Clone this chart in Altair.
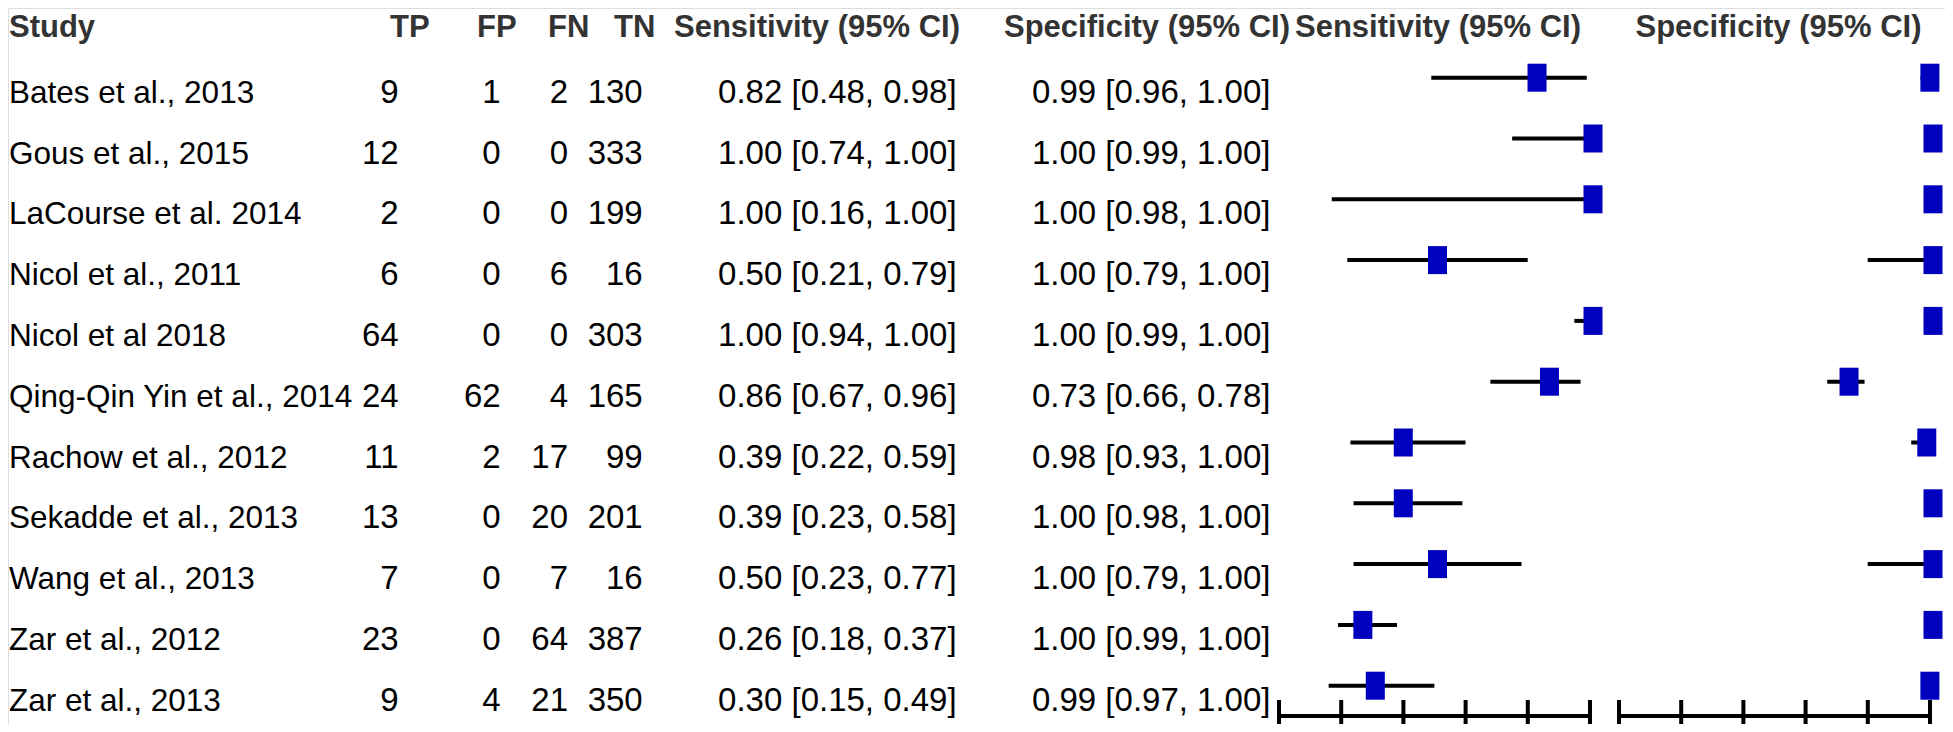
import altair as alt
import pandas as pd

studies = ["Bates et al., 2013", "Gous et al., 2015", "LaCourse et al. 2014",
           "Nicol et al., 2011", "Nicol et al 2018", "Qing-Qin Yin et al., 2014",
           "Rachow et al., 2012", "Sekadde et al., 2013", "Wang et al., 2013",
           "Zar et al., 2012", "Zar et al., 2013"]
tp = [9, 12, 2, 6, 64, 24, 11, 13, 7, 23, 9]
fp = [1, 0, 0, 0, 0, 62, 2, 0, 0, 0, 4]
fn = [2, 0, 0, 6, 0, 4, 17, 20, 7, 64, 21]
tn = [130, 333, 199, 16, 303, 165, 99, 201, 16, 387, 350]
sens = [0.82, 1.00, 1.00, 0.50, 1.00, 0.86, 0.39, 0.39, 0.50, 0.26, 0.30]
sens_lo = [0.48, 0.74, 0.16, 0.21, 0.94, 0.67, 0.22, 0.23, 0.23, 0.18, 0.15]
sens_hi = [0.98, 1.00, 1.00, 0.79, 1.00, 0.96, 0.59, 0.58, 0.77, 0.37, 0.49]
spec = [0.99, 1.00, 1.00, 1.00, 1.00, 0.73, 0.98, 1.00, 1.00, 1.00, 0.99]
spec_lo = [0.96, 0.99, 0.98, 0.79, 0.99, 0.66, 0.93, 0.98, 0.79, 0.99, 0.97]
spec_hi = [1.00, 1.00, 1.00, 1.00, 1.00, 0.78, 1.00, 1.00, 1.00, 1.00, 1.00]
headers = ["Study", "TP", "FP", "FN", "TN", "Sensitivity (95% CI)",
           "Specificity (95% CI)", "Sensitivity (95% CI)", "Specificity (95% CI)"]
axis_ticks = [0.0, 0.2, 0.4, 0.6, 0.8, 1.0]

df = pd.DataFrame({
    "study": studies, "tp": tp, "fp": fp, "fn": fn, "tn": tn,
    "sens": sens, "sens_lo": sens_lo, "sens_hi": sens_hi,
    "spec": spec, "spec_lo": spec_lo, "spec_hi": spec_hi,
})
df["sens_txt"] = [f"{a:.2f} [{b:.2f}, {c:.2f}]" for a, b, c in zip(sens, sens_lo, sens_hi)]
df["spec_txt"] = [f"{a:.2f} [{b:.2f}, {c:.2f}]" for a, b, c in zip(spec, spec_lo, spec_hi)]
ticks_df = pd.DataFrame({"t": axis_ticks})
axis_df = pd.DataFrame({"a": [axis_ticks[0]], "b": [axis_ticks[-1]]})

# ---- layout / style ----
W, H = 1937, 716
FONT = "Liberation Sans, Arial, sans-serif"
FS_STUDY = 31.5
FS_NUM = 33
FS_HEAD = 31
ROW_RANGE = [69.7, 677.7]
SENS_RANGE = [1271, 1582]
SPEC_RANGE = [1611, 1922]
BOX_COLOR = "#0000BF"
TEXT_DY = 25
HEADER_Y = 28.5
AXIS_Y = 708
TICK_TOP = 692

yenc = alt.Y("study:N", sort=studies, axis=None,
             scale=alt.Scale(type="point", domain=studies, range=ROW_RANGE, padding=0))

base = alt.Chart(df)

layers = []

# table text columns (right aligned except study)
text_cols = [("study", 1, "left", FS_STUDY), ("tp", 390.6, "right", FS_NUM),
             ("fp", 492.7, "right", FS_NUM), ("fn", 560, "right", FS_NUM),
             ("tn", 634.7, "right", FS_NUM),
             ("sens_txt", 948.6, "right", FS_NUM), ("spec_txt", 1262.5, "right", FS_NUM)]
for field, xpos, al, fs in text_cols:
    layers.append(
        base.mark_text(font=FONT, fontSize=fs, align=al, baseline="alphabetic",
                       dy=TEXT_DY, color="#000000")
        .encode(x=alt.value(xpos), y=yenc, text=alt.Text(f"{field}:N"))
    )

# headers
header_x = [1, 382, 469, 540, 606, 666, 996, 1287, 1627.5]
for label, xpos in zip(headers, header_x):
    layers.append(
        alt.Chart(axis_df).mark_text(font=FONT, fontSize=FS_HEAD, fontWeight="bold",
                                     align="left", baseline="alphabetic", color="#333333")
        .encode(x=alt.value(xpos), y=alt.value(HEADER_Y), text=alt.value(label))
    )

# forest plots
for est, lo, hi, rng in [("sens", "sens_lo", "sens_hi", SENS_RANGE),
                         ("spec", "spec_lo", "spec_hi", SPEC_RANGE)]:
    sc = alt.Scale(domain=[0, 1], range=rng, zero=False, nice=False)
    layers.append(
        base.mark_rule(color="black", strokeWidth=4, xOffset=3, x2Offset=3)
        .encode(x=alt.X(f"{lo}:Q", scale=sc, axis=None), x2=f"{hi}:Q", y=yenc)
    )
    layers.append(
        base.mark_tick(color=BOX_COLOR, thickness=19, size=28, opacity=1, xOffset=3)
        .encode(x=alt.X(f"{est}:Q", scale=sc, axis=None), y=yenc)
    )
    layers.append(
        alt.Chart(axis_df).mark_rule(color="black", strokeWidth=4, strokeCap="square")
        .encode(x=alt.X("a:Q", scale=sc, axis=None), x2="b:Q", y=alt.value(AXIS_Y))
    )
    layers.append(
        alt.Chart(ticks_df).mark_rule(color="black", strokeWidth=4)
        .encode(x=alt.X("t:Q", scale=sc, axis=None), y=alt.value(TICK_TOP), y2=alt.value(H))
    )

chart = (
    alt.layer(*layers)
    .resolve_scale(x="independent")
    .properties(width=W, height=H, autosize=alt.AutoSizeParams(type="none"), padding=0)
    .configure_view(stroke=None)
    .configure(background="white")
)

chart.save("out.html", embed_options={"renderer": "svg", "actions": False})
